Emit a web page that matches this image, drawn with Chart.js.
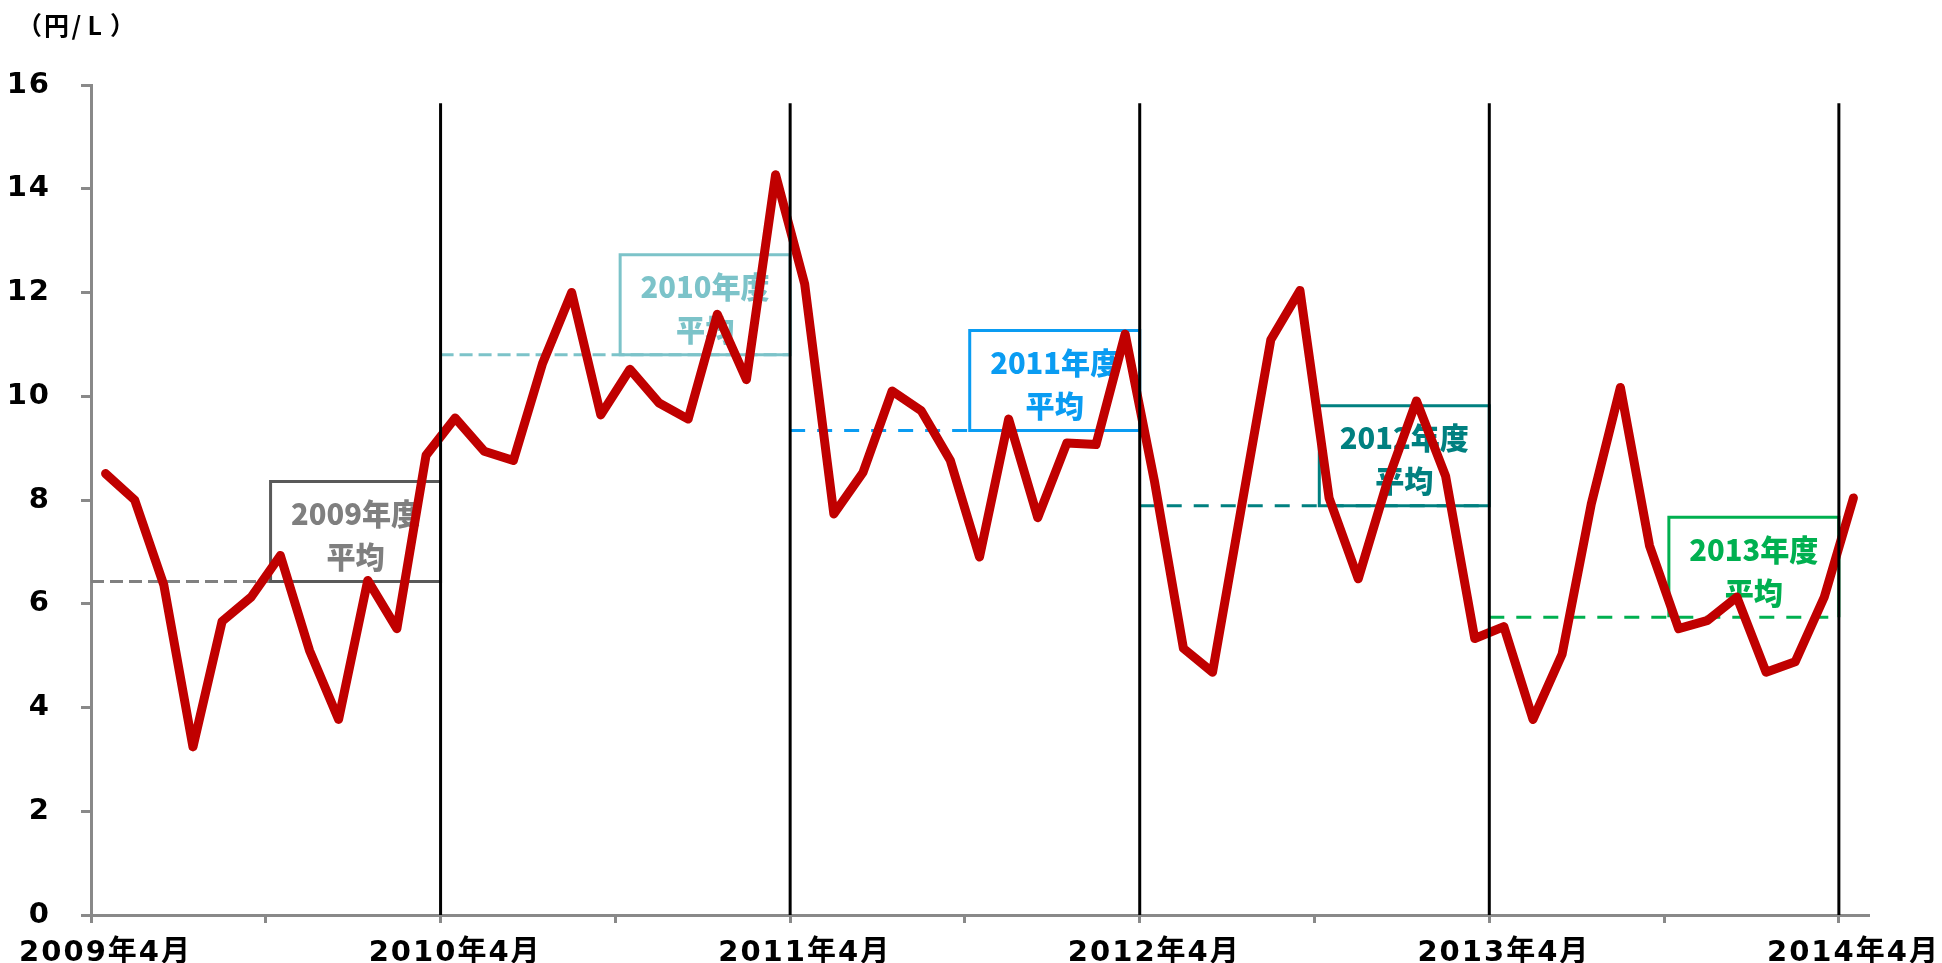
<!DOCTYPE html>
<html lang="ja">
<head>
  <meta charset="UTF-8">
  <title>価格推移（円/L）</title>
  <style>
    html, body { margin: 0; padding: 0; background: #fff; }
    .chart { width: 1942px; height: 963px; }
  </style>
</head>
<body>
  <div class="chart"><canvas id="chart"></canvas></div>
  <script src="https://cdn.jsdelivr.net/npm/chart.js@4.4.1/dist/chart.umd.min.js"></script>
  <script>
    // 2009年4月〜2014年4月の月次ラベル
    const months = [];
    for (let i = 0; i <= 60; i++) {
      months.push(`${2009 + Math.floor((i + 3) / 12)}年${(i + 3) % 12 + 1}月`);
    }

    // 月次の値（円/L）
    const prices = [
      8.51, 8.00, 6.36, 3.24, 5.66, 6.13, 6.93, 5.10, 3.77, 6.45, 5.52, 8.86,
      9.58, 8.94, 8.76, 10.63, 12.00, 9.64, 10.52, 9.87, 9.56, 11.58, 10.32, 14.27,
      12.16, 7.73, 8.53, 10.10, 9.72, 8.76, 6.90, 9.56, 7.66, 9.10, 9.07, 11.20,
      8.38, 5.14, 4.68, 7.89, 11.09, 12.04, 8.04, 6.48, 8.35, 9.91, 8.46, 5.33,
      5.56, 3.77, 5.03, 7.92, 10.17, 7.12, 5.52, 5.68, 6.13, 4.68, 4.88, 6.13,
      8.04
    ];

    // 年度平均
    const fiscalYears = ['2009年度', '2010年度', '2011年度', '2012年度', '2013年度'];
    const fiscalAverages = [6.43, 10.80, 9.34, 7.89, 5.74];

    const yTicks = [0, 2, 4, 6, 8, 10, 12, 14, 16];
    const unitLabel = '（円/L）';

    const fyStyles = [
      { line: '#808080', box: '#595959', text: '#7f7f7f', dash: [13, 6], closed: true },
      { line: '#7cc3c9', box: '#7cc3c9', text: '#7cc3c9', dash: [13, 6], closed: true },
      { line: '#0a9cf2', box: '#0a9cf2', text: '#0a9cf2', dash: [15, 12], closed: true },
      { line: '#008080', box: '#008080', text: '#008080', dash: [15, 12], closed: true },
      { line: '#00b050', box: '#00b050', text: '#00b050', dash: [15, 12], closed: false }
    ];

    const AXIS_GRAY = '#898989';
    const FONT = "'DejaVu Sans', 'Noto Sans CJK JP', sans-serif";
    const AXIS_SPACING = '2px';

    // 年度の区切り線・平均線・ラベル枠
    const fiscalPlugin = {
      id: 'fiscal',
      // 軸ラベルは字間を少し広げる（計測と描画の両方で同じ値）
      beforeLayout(chart) { chart.ctx.letterSpacing = AXIS_SPACING; },
      beforeDraw(chart) { chart.ctx.letterSpacing = AXIS_SPACING; },
      beforeDatasetsDraw(chart) {
        const { ctx, scales: { x, y } } = chart;
        ctx.letterSpacing = '0px';
        const half = (x.getPixelForValue(1) - x.getPixelForValue(0)) / 2;
        const edge = i => x.getPixelForValue(i) - half;
        fiscalYears.forEach((name, f) => {
          const st = fyStyles[f];
          const x0 = edge(f * 12);
          const x1 = edge(f * 12 + 12);
          const yy = y.getPixelForValue(fiscalAverages[f]);
          const w = 170, h = 100;
          ctx.save();
          ctx.lineWidth = 3;
          ctx.strokeStyle = st.line;
          ctx.setLineDash(st.dash);
          ctx.beginPath();
          ctx.moveTo(x0, yy);
          ctx.lineTo(x1, yy);
          ctx.stroke();

          ctx.setLineDash([]);
          ctx.strokeStyle = st.box;
          ctx.beginPath();
          ctx.moveTo(x1 - w, yy);
          ctx.lineTo(x1 - w, yy - h);
          ctx.lineTo(x1, yy - h);
          ctx.lineTo(x1, yy);
          if (st.closed) ctx.closePath();
          ctx.stroke();

          ctx.fillStyle = st.text;
          ctx.font = "900 30px 'Noto Sans CJK JP', sans-serif";
          ctx.textAlign = 'center';
          ctx.textBaseline = 'middle';
          const cx = x1 - w / 2;
          [[name, yy - 68], ['平均', yy - 25]].forEach(([t, ty]) => {
            ctx.save();
            ctx.translate(cx, ty);
            ctx.scale(0.97, 1);
            ctx.fillText(t, 0, 0);
            ctx.restore();
          });
          ctx.restore();
        });
      },
      afterDatasetsDraw(chart) {
        const { ctx, scales: { x, y } } = chart;
        const half = (x.getPixelForValue(1) - x.getPixelForValue(0)) / 2;
        ctx.save();
        ctx.strokeStyle = '#000';
        ctx.lineWidth = 3;
        for (let i = 12; i <= 60; i += 12) {
          const px = x.getPixelForValue(i) - half;
          ctx.beginPath();
          ctx.moveTo(px, y.getPixelForValue(15.65));
          ctx.lineTo(px, y.getPixelForValue(0));
          ctx.stroke();
        }
        ctx.restore();
      },
      afterDraw(chart) {
        // 単位：1文字ずつ等間隔に置く
        const { ctx } = chart;
        ctx.save();
        ctx.letterSpacing = '0px';
        ctx.fillStyle = '#000';
        ctx.font = "bold 25px 'Noto Sans CJK JP', sans-serif";
        ctx.textBaseline = 'middle';
        ctx.textAlign = 'left';
        [...unitLabel].forEach((ch, i) => {
          const m = ctx.measureText(ch);
          const cx = 37 + i * 19.5;
          ctx.fillText(ch, cx - (m.actualBoundingBoxRight - m.actualBoundingBoxLeft) / 2, 25);
        });
        ctx.restore();
        ctx.letterSpacing = AXIS_SPACING;
      }
    };

    new Chart(document.getElementById('chart'), {
      type: 'line',
      data: {
        labels: months,
        datasets: [{
          data: prices,
          borderColor: '#c00000',
          borderWidth: 9,
          pointRadius: 0,
          tension: 0,
          fill: false,
          borderJoinStyle: 'round',
          borderCapStyle: 'round'
        }]
      },
      options: {
        responsive: true,
        maintainAspectRatio: false,
        animation: false,
        layout: { padding: { top: 85, right: 74, bottom: 0, left: 0 } },
        plugins: { legend: { display: false }, tooltip: { enabled: false } },
        scales: {
          x: {
            offset: true,
            // 端のラベルのはみ出し分で描画領域を縮めない
            afterFit: s => { s.height = 48; s.paddingLeft = 0; s.paddingRight = 0; },
            grid: {
              offset: true,
              drawOnChartArea: false,
              tickLength: 8,
              lineWidth: 3,
              color: c => (c.index !== undefined && c.index % 6 === 0) ? AXIS_GRAY : 'rgba(0,0,0,0)'
            },
            border: { color: AXIS_GRAY, width: 3 },
            ticks: {
              autoSkip: false,
              maxRotation: 0,
              minRotation: 0,
              padding: 13,
              color: '#000',
              font: { family: FONT, size: 29, weight: 'bold' },
              callback: function (value, index) {
                return index % 12 === 0 ? this.getLabelForValue(value) : '';
              }
            }
          },
          y: {
            min: yTicks[0],
            max: yTicks[yTicks.length - 1],
            afterFit: s => { s.width = 91; },
            afterBuildTicks: s => { s.ticks = yTicks.map(v => ({ value: v })); },
            grid: { drawOnChartArea: false, tickLength: 10, lineWidth: 3, color: AXIS_GRAY },
            border: { color: AXIS_GRAY, width: 3 },
            ticks: {
              padding: 30,
              color: '#000',
              font: { family: FONT, size: 29, weight: 'bold' }
            }
          }
        }
      },
      plugins: [fiscalPlugin]
    });
  </script>
</body>
</html>
